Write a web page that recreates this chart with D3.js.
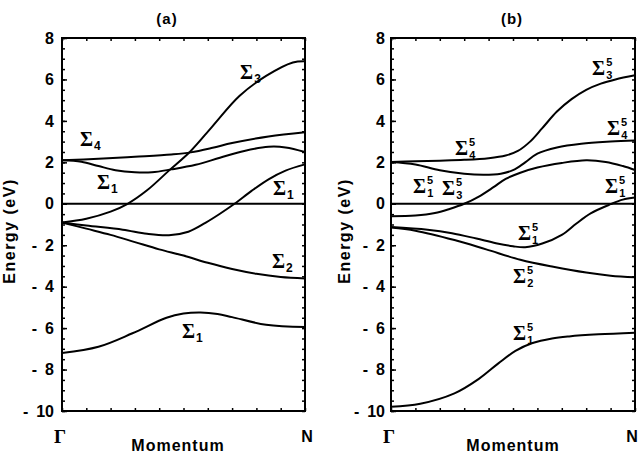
<!DOCTYPE html>
<html>
<head>
<meta charset="utf-8">
<script src="https://cdn.jsdelivr.net/npm/d3@7/dist/d3.min.js"></script>
<style>
  body { margin: 0; background: #fff; }
  text { font-family: 'Liberation Sans', Arial, sans-serif; font-weight: bold; fill: #000; }
  .sigma { font-family: 'Liberation Serif', 'DejaVu Serif', serif; font-weight: bold; }
</style>
</head>
<body>
<svg id="chart" width="640" height="459"></svg>
<script>
// Band energies (eV) along momentum, Gamma = 0, N = 1.

// Panel (a).
const aSigma4 = [[0, 2.1], [0.15, 2.17], [0.3, 2.27], [0.45, 2.38], [0.53, 2.48], [0.62, 2.7], [0.7, 2.93], [0.85, 3.25], [1, 3.45]]
const aSigma1Up = [[0, 2.1], [0.08, 2.03], [0.15, 1.82], [0.22, 1.62], [0.3, 1.52], [0.37, 1.52], [0.45, 1.66], [0.55, 1.88], [0.65, 2.22], [0.75, 2.55], [0.85, 2.75], [0.92, 2.72], [1, 2.5]]
const aSigma3 = [[0, -0.9], [0.1, -0.72], [0.2, -0.38], [0.27, 0], [0.35, 0.65], [0.44, 1.6], [0.53, 2.55], [0.62, 3.75], [0.73, 5.2], [0.84, 6.17], [0.95, 6.82], [1, 6.88]]
const aSigma1Mid = [[0, -0.9], [0.1, -1.05], [0.25, -1.25], [0.35, -1.45], [0.44, -1.52], [0.52, -1.35], [0.59, -0.92], [0.65, -0.48], [0.71, 0], [0.78, 0.62], [0.85, 1.18], [0.92, 1.6], [1, 1.9]]
const aSigma2 = [[0, -0.9], [0.1, -1.2], [0.2, -1.5], [0.3, -1.85], [0.4, -2.2], [0.5, -2.5], [0.6, -2.85], [0.7, -3.15], [0.8, -3.38], [0.9, -3.53], [1, -3.6]]
const aSigma1Low = [[0, -7.2], [0.15, -6.9], [0.29, -6.25], [0.43, -5.5], [0.5, -5.3], [0.57, -5.25], [0.64, -5.32], [0.7, -5.47], [0.84, -5.84], [1, -5.95]]

// Panel (b).
const bBand1 = [[0, 2.02], [0.1, 2.05], [0.2, 2.08], [0.3, 2.12], [0.4, 2.2], [0.47, 2.33], [0.52, 2.55], [0.57, 3.0], [0.62, 3.65], [0.68, 4.45], [0.74, 5.05], [0.8, 5.5], [0.86, 5.8], [0.92, 6.0], [1, 6.2]]
const bBand2 = [[0, 2.02], [0.1, 1.9], [0.2, 1.62], [0.3, 1.45], [0.38, 1.4], [0.45, 1.45], [0.5, 1.62], [0.55, 2.0], [0.6, 2.42], [0.68, 2.72], [0.78, 2.9], [0.9, 3.0], [1, 3.05]]
const bBand3 = [[0, -0.6], [0.1, -0.57], [0.18, -0.45], [0.24, -0.25], [0.3, 0], [0.36, 0.35], [0.42, 0.8], [0.47, 1.2], [0.53, 1.5], [0.6, 1.75], [0.7, 1.97], [0.8, 2.1], [0.88, 2.02], [0.95, 1.82], [1, 1.63]]
const bBand4 = [[0, -1.12], [0.15, -1.25], [0.25, -1.42], [0.35, -1.68], [0.43, -1.9], [0.5, -2.05], [0.55, -2.1], [0.62, -1.92], [0.7, -1.5], [0.76, -0.95], [0.82, -0.45], [0.9, -0.02], [0.95, 0.2], [1, 0.3]]
const bBand5 = [[0, -1.15], [0.1, -1.3], [0.26, -1.75], [0.39, -2.2], [0.53, -2.7], [0.665, -3.04], [0.8, -3.32], [0.9, -3.47], [1, -3.55]]
const bBand6 = [[0, -9.8], [0.12, -9.65], [0.26, -9.15], [0.36, -8.45], [0.44, -7.7], [0.51, -7.1], [0.58, -6.72], [0.66, -6.5], [0.73, -6.4], [0.85, -6.3], [1, -6.22]]

// Fermi level.
const fermi = [[0, 0], [1, 0]]

// Axis ticks.
const energyTicks = [8, 6, 4, 2, 0, -2, -4, -6, -8, -10]
const energyMinor = d3.range(-10, 8.01, 0.5)
const momentumTicks = d3.range(0, 1.001, 0.1)

// Band labels: [momentum, energy, subscript, superscript].
const aLabels = [
  [0.074, 2.77, '4', ''],
  [0.144, 0.69, '1', ''],
  [0.733, 6.0, '3', ''],
  [0.868, 0.4, '1', ''],
  [0.864, -3.08, '2', ''],
  [0.494, -6.47, '1', '']
]
const bLabels = [
  [0.824, 6.2, '3', '5'],
  [0.262, 2.36, '4', '5'],
  [0.885, 3.32, '4', '5'],
  [0.09, 0.52, '1', '5'],
  [0.209, 0.42, '3', '5'],
  [0.877, 0.52, '1', '5'],
  [0.52, -1.75, '1', '5'],
  [0.5, -3.82, '2', '5'],
  [0.5, -6.57, '1', '5']
]

const svg = d3.select('#chart')

function drawPanel(opt) {
  const x = d3.scaleLinear().domain([0, 1]).range([opt.left, opt.right])
  const y = d3.scaleLinear().domain([-10, 8]).range([411, 38])

  const g = svg.append('g')

  // Ticks (all pointing inward).
  const axes = [
    [d3.axisLeft(y).tickValues(energyTicks).tickSize(-5).tickPadding(opt.pad)
      .tickFormat(d => d < 0 ? '-\u2002' + Math.abs(d) : d), 'translate(' + opt.left + ',0)'],
    [d3.axisLeft(y).tickValues(energyMinor).tickSize(-3).tickFormat(''), 'translate(' + opt.left + ',0)'],
    [d3.axisRight(y).tickValues(energyMinor).tickSize(-3).tickFormat(''), 'translate(' + opt.right + ',0)'],
    [d3.axisBottom(x).tickValues(momentumTicks).tickSize(-3).tickFormat(''), 'translate(0,411)'],
    [d3.axisTop(x).tickValues(momentumTicks).tickSize(-3).tickFormat(''), 'translate(0,38)']
  ]
  axes.forEach(a => {
    const ax = g.append('g').attr('transform', a[1]).call(a[0])
    ax.select('.domain').remove()
    ax.selectAll('line').attr('stroke', '#000').attr('stroke-width', 1.5)
    ax.selectAll('text')
      .style('font-family', "'Liberation Sans', Arial, sans-serif")
      .style('font-weight', 'bold')
      .style('font-size', '16px')
      .attr('fill', '#000')
  })

  // Frame.
  g.append('rect')
    .attr('x', opt.left)
    .attr('y', 38)
    .attr('width', opt.right - opt.left)
    .attr('height', 411 - 38)
    .attr('fill', 'none')
    .attr('stroke', '#000')
    .attr('stroke-width', 2)

  // Bands.
  const line = d3.line()
    .x(d => x(d[0]))
    .y(d => y(d[1]))
    .curve(d3.curveCatmullRom.alpha(0.5))

  opt.bands.forEach(b => {
    g.append('path')
      .attr('d', line(b))
      .attr('fill', 'none')
      .attr('stroke', '#000')
      .attr('stroke-width', 2)
  })

  // Sigma labels, one text each (superscript stacked over subscript).
  opt.labels.forEach(l => {
    const t = g.append('text')
      .attr('x', x(l[0])).attr('y', y(l[1]))
    t.append('tspan').attr('class', 'sigma')
      .style('font-size', '20px')
      .text('\u03a3')
    if (l[3]) {
      t.append('tspan')
        .attr('dx', 1).attr('dy', -9)
        .style('font-size', '11px')
        .text(l[3])
      t.append('tspan')
        .attr('dx', -6).attr('dy', 13)
        .style('font-size', '11px')
        .text(l[2])
    } else {
      t.append('tspan')
        .attr('dx', 1).attr('dy', 4)
        .style('font-size', '12px')
        .text(l[2])
    }
  })

  // Titles.
  g.append('text')
    .attr('x', opt.titleX).attr('y', 24)
    .attr('text-anchor', 'middle')
    .style('font-size', '15px')
    .style('letter-spacing', '1px')
    .text(opt.title)

  g.append('text')
    .attr('transform', 'translate(' + opt.yLabelX + ',231) rotate(-90)')
    .attr('text-anchor', 'middle')
    .style('font-size', '16px')
    .style('letter-spacing', '1.5px')
    .text('Energy (eV)')

  g.append('text')
    .attr('x', opt.momX).attr('y', 451)
    .attr('text-anchor', 'middle')
    .style('font-size', '16px')
    .style('letter-spacing', '1px')
    .text('Momentum')

  g.append('text').attr('class', 'sigma')
    .attr('x', x(0) - 2).attr('y', 443)
    .attr('text-anchor', 'middle')
    .style('font-size', '19px')
    .text('\u0393')

  g.append('text')
    .attr('x', opt.nX).attr('y', 442)
    .attr('text-anchor', 'middle')
    .style('font-size', '16px')
    .text('N')
}

drawPanel({
  left: 62, right: 305, pad: 8,
  bands: [aSigma4, aSigma1Up, aSigma3, aSigma1Mid, aSigma2, aSigma1Low, fermi],
  labels: aLabels,
  title: '(a)', titleX: 167, yLabelX: 15, momX: 178, nX: 307
})

drawPanel({
  left: 391, right: 635, pad: 6,
  bands: [bBand1, bBand2, bBand3, bBand4, bBand5, bBand6, fermi],
  labels: bLabels,
  title: '(b)', titleX: 512, yLabelX: 350, momX: 513, nX: 632
})
</script>
</body>
</html>
